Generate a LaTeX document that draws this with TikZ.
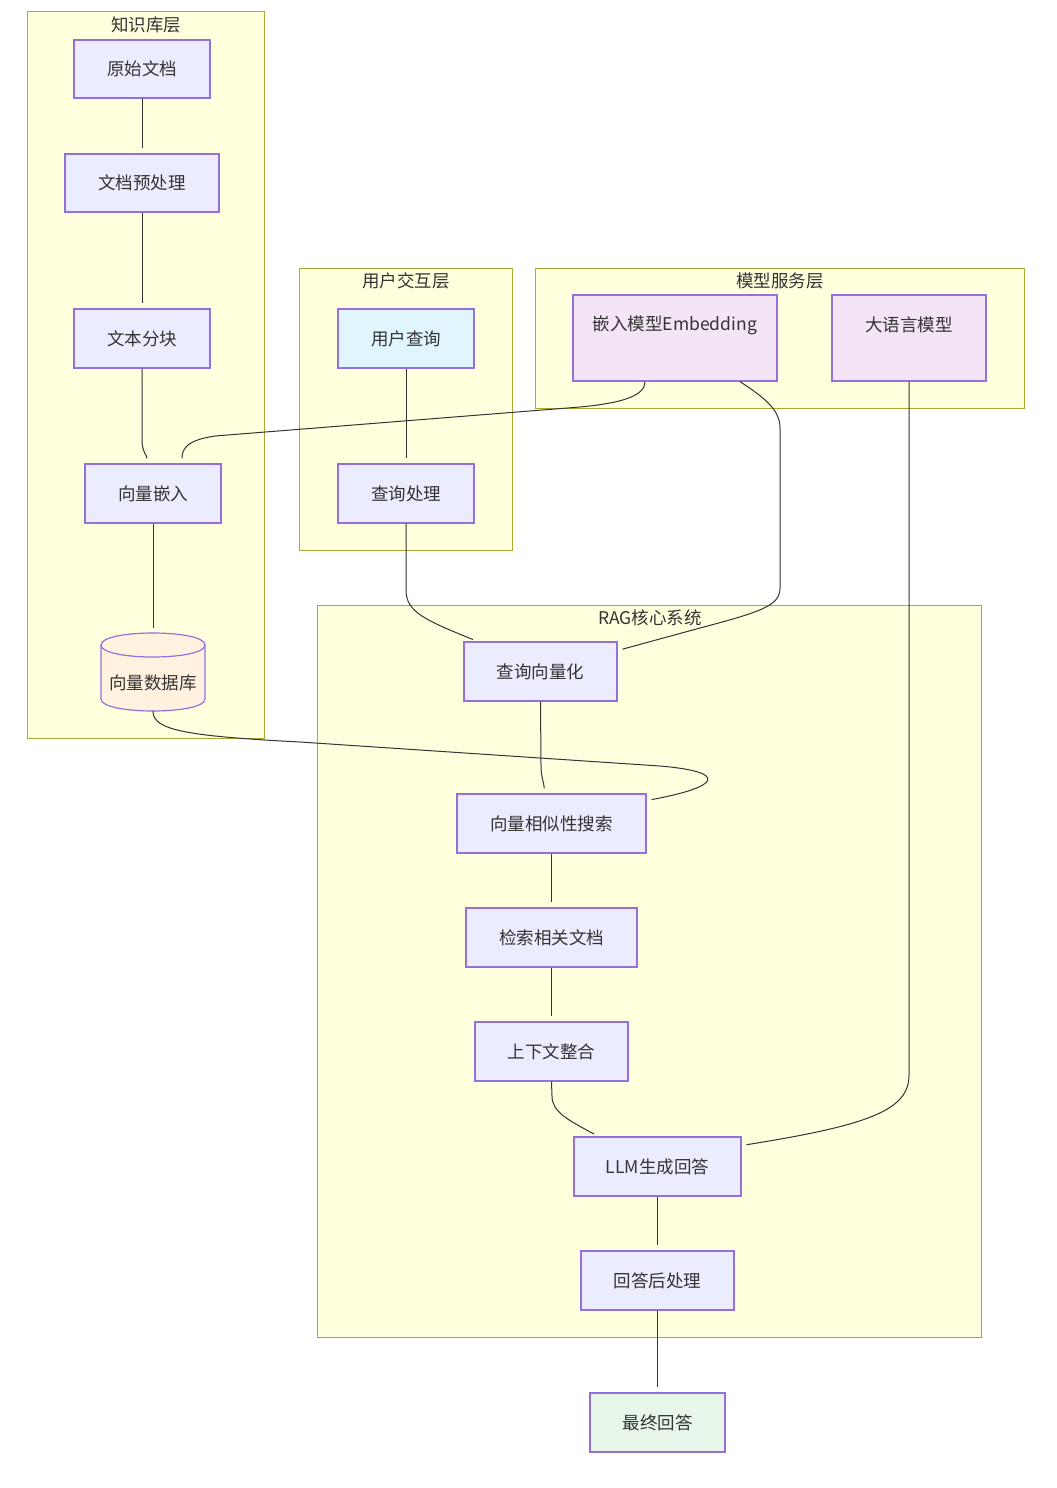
\documentclass[tikz,border=0pt]{standalone}
\usepackage{fontspec}
\setmainfont{Noto Sans CJK SC}
\definecolor{clfill}{HTML}{FFFFDE}
\definecolor{cldraw}{HTML}{AAAA33}
\definecolor{ndfill}{HTML}{ECECFF}
\definecolor{nddraw}{HTML}{9370DB}
\definecolor{bluefill}{HTML}{E1F5FE}
\definecolor{purfill}{HTML}{F3E5F5}
\definecolor{grnfill}{HTML}{E8F5E9}
\definecolor{orgfill}{HTML}{FFF3E0}
\definecolor{edge}{HTML}{333333}
\tikzset{
  cluster/.style={draw=cldraw, fill=clfill, line width=1pt},
  txt/.style={font=\fontsize{17.5pt}{21pt}\selectfont, text=edge},
  ctitle/.style={txt, inner sep=0pt},
  box/.style={txt, draw=nddraw, fill=ndfill, line width=1.2pt, inner sep=0pt},
  cyl/.style={draw=nddraw, fill=orgfill, line width=1.2pt},
  conn/.style={draw=edge, line width=1pt, shorten >=5pt}
}
\begin{document}
\begin{tikzpicture}[x=1pt,y=-1pt]
\useasboundingbox (0,0) rectangle (1057,1488);
% clusters
\path[cluster] (27,12) rectangle (264,738);
\node[ctitle] (t1) at (146,25) {知识库层};
\path[cluster] (299,268) rectangle (512,550);
\node[ctitle] (t2) at (406,281) {用户交互层};
\path[cluster] (535,268) rectangle (1024,408);
\node[ctitle] (t3) at (780,281) {模型服务层};
\path[cluster] (317,605) rectangle (981,1337);
\node[ctitle] (t4) at (650,618) {RAG核心系统};
% nodes
\node[box, minimum width=136pt, minimum height=58pt] (doc) at (142,69) {原始文档};
\node[box, minimum width=154pt, minimum height=58pt] (pre) at (142,183) {文档预处理};
\node[box, minimum width=136pt, minimum height=59pt] (chunk) at (142,338.5) {文本分块};
\node[box, minimum width=136pt, minimum height=59pt] (emb) at (153,493.5) {向量嵌入};
% vector database cylinder
\path[cyl] (101,645) -- (101,699) .. controls (101,715) and (205,715) .. (205,699)
   -- (205,645) .. controls (205,629) and (101,629) .. (101,645) -- cycle;
\draw[cyl, fill=none] (101,645) .. controls (101,661) and (205,661) .. (205,645);
\node[inner sep=0pt, minimum width=104pt, minimum height=78pt] (db) at (153,672) {};
\node[txt, inner sep=0pt] (dbl) at (153,683) {向量数据库};
\node[box, fill=bluefill, minimum width=136pt, minimum height=59pt] (uq) at (406,338.5) {用户查询};
\node[box, minimum width=136pt, minimum height=59pt] (qp) at (406,493.5) {查询处理};
\node[box, fill=purfill, minimum width=204pt, minimum height=86pt] (embm) at (675,338) {};
\node[txt, inner sep=0pt] (embml) at (675,325) {嵌入模型Embedding};
\node[box, fill=purfill, minimum width=154pt, minimum height=86pt] (llmm) at (909,338) {};
\node[txt, inner sep=0pt] (llmml) at (909,325) {大语言模型};
\node[box, minimum width=153pt, minimum height=59pt] (qv) at (540.5,671.5) {查询向量化};
\node[box, minimum width=189pt, minimum height=59pt] (sim) at (551.5,823.5) {向量相似性搜索};
\node[box, minimum width=171pt, minimum height=59pt] (ret) at (551.5,937.5) {检索相关文档};
\node[box, minimum width=153pt, minimum height=59pt] (ctx) at (551.5,1051.5) {上下文整合};
\node[box, minimum width=167pt, minimum height=59pt] (llm) at (657.5,1166.5) {LLM生成回答};
\node[box, minimum width=153pt, minimum height=59pt] (post) at (657.5,1280.5) {回答后处理};
\node[box, fill=grnfill, minimum width=135pt, minimum height=59pt] (final) at (657.5,1422.5) {最终回答};
% connectors
\draw[conn] (doc.south) -- (pre.north);
\draw[conn] (pre.south) -- (chunk.north);
\draw[conn] (chunk.south) -- (142,440) .. controls (142,452) and (147,455) .. ([xshift=-6pt]emb.north);
\draw[conn] ([xshift=-30pt]embm.south) .. controls (645,396) and (622,403) .. (580,407)
   -- (215,436) .. controls (188,440) and (182,448) .. ([xshift=29pt]emb.north);
\draw[conn] (emb.south) -- (db.north);
\draw[conn] (uq.south) -- (qp.north);
\draw[conn] (qp.south) -- (406,590) .. controls (406,612) and (425,620) .. ([xshift=-63pt]qv.north);
\draw[conn] ([xshift=65pt]embm.south) .. controls (765,398) and (780,410) .. (780,428)
   -- (780,588) .. controls (780,606) and (760,612) .. (700,628) -- ([yshift=21pt]qv.east);
\draw[conn] (qv.south) -- (541,765) .. controls (541,778) and (544,782) .. ([xshift=-7pt]sim.north);
\draw[conn] (db.south) .. controls (153,730) and (185,736) .. (300,742)
   -- (660,766) .. controls (730,772) and (720,787) .. ([yshift=23pt]sim.east);
\draw[conn] (sim.south) -- (ret.north);
\draw[conn] (ret.south) -- (ctx.north);
\draw[conn] (ctx.south) -- (552,1096) .. controls (552,1112) and (568,1120) .. ([xshift=-59pt]llm.north);
\draw[conn] (llmm.south) -- (909,1075) .. controls (909,1110) and (870,1125) .. ([yshift=21pt]llm.east);
\draw[conn] (llm.south) -- (post.north);
\draw[conn] (post.south) -- (final.north);
\end{tikzpicture}
\end{document}
